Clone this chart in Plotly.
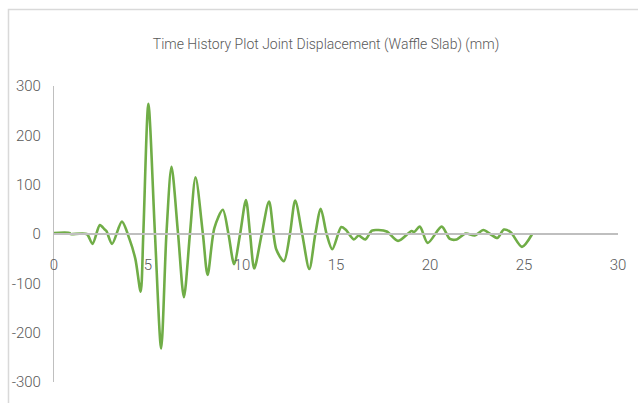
import plotly.graph_objects as go

title_text = "Time History Plot Joint Displacement (Waffle Slab) (mm)"

time_s = [0, 0.84, 0.86, 1.74, 2.05, 2.44, 2.7, 2.79, 3.09, 3.61, 4.02, 4.33, 4.61,
          4.75, 5.02, 5.37, 5.70, 5.98, 6.25, 6.60, 6.91, 7.23, 7.53, 7.92, 8.17,
          8.53, 8.98, 9.28, 9.58, 9.90, 10.21, 10.43, 10.65, 11.05, 11.44, 11.82,
          12.23, 12.55, 12.83, 13.20, 13.58, 13.90, 14.19, 14.50, 14.80, 15.28,
          15.51, 15.95, 16.20, 16.56, 16.91, 17.26, 17.70, 18.30, 19.02, 19.16,
          19.46, 19.88, 20.62, 21.06, 21.42, 21.90, 22.38, 22.84, 23.20, 23.59,
          23.93, 24.28, 24.89, 25.42]
displacement_mm = [2, 2, 0, 0, -20, 18, 9, 6, -20, 25, -11, -51, -117,
                   0, 264, 0, -232, 0, 136, 0, -128, 0, 115, 0, -83,
                   12, 49, 0, -61, 0, 69, 0, -70, 0, 66, -31,
                   -55, 0, 68, 0, -71, 0, 51, 0, -31, 14,
                   9, -11, -3, -11, 7, 8, 5, -14, 6, 4,
                   15, -18, 15, -10, -11, 1, -3, 8, 0, -8,
                   9, 4, -26, -1]

x_ticks = [0, 5, 10, 15, 20, 25, 30]
y_ticks = [-300, -200, -100, 0, 100, 200, 300]

fig = go.Figure()
fig.add_trace(go.Scatter(
    x=time_s, y=displacement_mm, mode="lines",
    line=dict(color="#70AD47", width=2.6, shape="spline", smoothing=0.8),
    hoverinfo="skip", showlegend=False,
))

font_family = "Roboto, Liberation Sans, sans-serif"

fig.update_layout(
    width=638, height=403,
    margin=dict(l=52, r=16, t=86, b=19),
    paper_bgcolor="white", plot_bgcolor="white",
    title=dict(text=title_text, x=0.511, xanchor="center", y=1 - 44 / 403,
               yanchor="middle",
               font=dict(family=font_family, size=14, color="#595959", weight=300)),
    xaxis=dict(range=[0, 30], tickvals=x_ticks, ticktext=[str(v) for v in x_ticks],
               anchor="free", position=0.5, showline=True, linecolor="#BFBFBF",
               linewidth=1.5, showgrid=False, zeroline=False, ticks="",
               ticklabelstandoff=17,
               tickfont=dict(family=font_family, size=15, color="#595959", weight=300)),
    yaxis=dict(range=[-300, 300], tickvals=y_ticks, ticktext=[str(v) for v in y_ticks],
               showline=True, linecolor="#BFBFBF", linewidth=1.2, showgrid=False,
               zeroline=False, ticks="", ticklabelstandoff=9,
               tickfont=dict(family=font_family, size=15, color="#595959", weight=300)),
    shapes=[dict(type="rect", xref="paper", yref="paper",
                 x0=(6 - 52) / 570, x1=1.2, y0=-0.3, y1=(384 - 9) / 298,
                 line=dict(color="#D9D9D9", width=1.5), fillcolor="rgba(0,0,0,0)",
                 layer="below")],
)

fig.write_html("out.html", config={"displayModeBar": False},
               post_script="document.body.style.margin='0';document.body.style.overflow='hidden';")
